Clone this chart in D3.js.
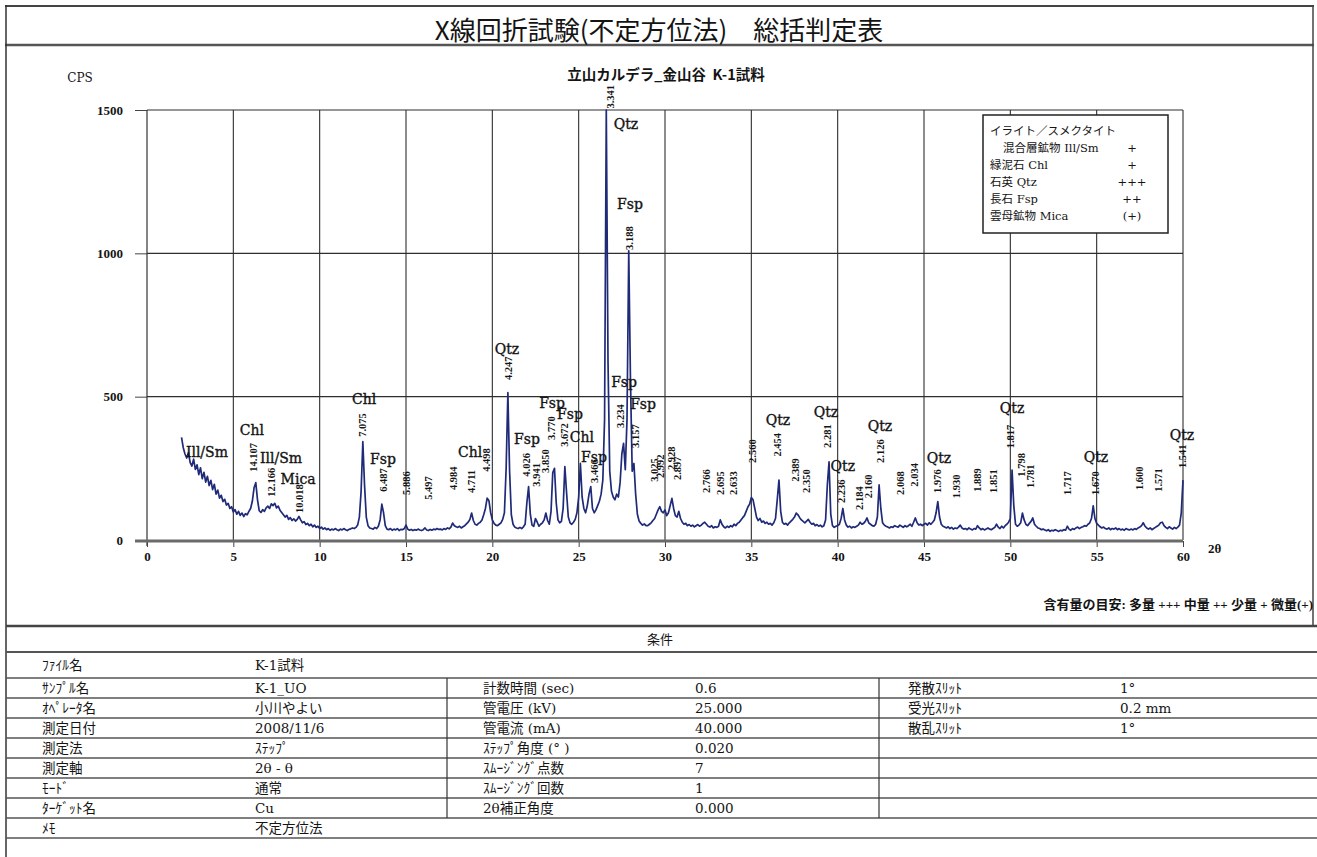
<!DOCTYPE html>
<html><head><meta charset="utf-8">
<script src="https://cdn.jsdelivr.net/npm/d3@7"></script>
<style>
body{margin:0;background:#fff;}
svg{display:block;}
text{fill:#141414;}
.sf{font-family:"Liberation Serif","Noto Sans CJK JP",serif;}
.wf{font-family:"DejaVu Serif","Noto Sans CJK JP",serif;}
.jp{font-family:"Noto Sans CJK JP","Liberation Serif",sans-serif;}
</style></head><body>
<svg id="c" width="1317" height="857"></svg>
<script>
// ---- XRD pattern: intensity (CPS) every 0.1° 2θ, from 2.0° to 60.0° ----
const scanStart = 2.0, scanStep = 0.1;
const cps = [
  358,322,300,286,305,270,258,282,246,262,   // 2
  228,252,214,236,202,222,190,208,176,194,   // 3
  160,174,146,156,134,142,122,128,110,116,   // 4
  98,106,90,100,86,94,82,92,88,100,          // 5
  110,135,182,200,140,102,96,106,100,112,    // 6
  118,110,126,120,128,112,118,104,96,88,     // 7
  80,86,72,78,68,74,66,72,82,70,             // 8
  60,64,54,58,50,55,46,52,44,48,             // 9
  40,45,38,42,36,40,34,38,35,40,             // 10
  36,33,38,35,40,36,33,37,39,42,             // 11
  40,44,52,80,170,343,190,80,50,42,          // 12
  40,38,44,40,48,70,125,95,50,38,            // 13
  36,40,34,38,35,40,33,37,36,40,             // 14
  52,38,34,37,33,36,34,38,35,33,             // 15
  36,42,35,33,37,34,38,36,40,37,             // 16
  38,35,40,37,42,39,45,59,50,46,             // 17
  44,48,42,46,50,56,62,72,94,68,             // 18
  55,52,58,62,70,88,110,146,138,96,          // 19
  70,58,52,50,55,60,72,95,250,514,           // 20
  240,88,55,45,42,40,44,40,46,55,            // 21
  130,186,90,52,48,75,62,48,55,60,           // 22
  70,94,68,55,100,235,250,130,70,60,         // 23
  65,110,256,165,80,60,55,62,72,95,          // 24
  150,267,150,110,95,120,160,186,110,95,     // 25
  105,120,135,160,210,420,1500,620,240,170,  // 26
  150,140,160,150,200,300,337,245,420,1009,  // 27
  560,240,267,160,90,66,58,52,56,50,         // 28
  50,55,60,68,75,90,105,116,100,95,          // 29
  105,85,95,120,145,110,85,80,100,75,        // 30
  62,55,58,50,54,48,52,46,50,54,             // 31
  48,52,58,62,55,48,45,50,42,46,             // 32
  44,48,70,55,46,42,48,44,50,46,             // 33
  55,50,58,62,70,78,85,100,115,125,          // 34
  148,140,110,80,68,75,62,66,58,62,          // 35
  55,58,52,60,75,140,209,100,62,55,          // 36
  58,52,60,66,72,80,94,88,78,70,             // 37
  65,60,66,72,62,55,58,50,54,48,             // 38
  52,46,50,70,190,273,90,50,44,48,           // 39
  50,55,75,110,70,52,45,48,42,46,            // 40
  44,48,52,62,55,58,65,77,60,55,             // 41
  50,48,55,80,192,110,60,52,48,45,           // 42
  42,46,44,50,47,45,52,48,44,50,             // 43
  46,50,55,48,62,77,60,52,55,50,             // 44
  55,58,52,60,55,62,70,95,134,80,            // 45
  55,48,45,42,46,40,44,38,42,40,             // 46
  45,52,42,38,40,36,42,38,35,40,             // 47
  38,50,42,36,40,35,38,42,38,36,             // 48
  40,44,55,45,40,48,42,50,55,62,             // 49
  75,244,120,55,48,52,60,94,70,55,           // 50
  50,58,65,77,55,48,42,40,36,38,             // 51
  35,32,36,30,34,32,36,33,30,34,             // 52
  32,36,34,48,38,34,40,37,42,45,             // 53
  40,44,46,50,48,55,60,75,119,75,            // 54
  58,52,46,42,45,40,38,42,36,40,             // 55
  38,42,36,40,35,38,34,40,37,35,             // 56
  38,35,40,37,42,45,50,60,48,42,             // 57
  38,42,36,40,44,48,52,60,62,50,             // 58
  44,40,46,42,38,44,40,45,52,95,             // 59
  209                                        // 60
];

// axis ticks
const xTicks = [0,5,10,15,20,25,30,35,40,45,50,55,60];
const yTicks = [0,500,1000,1500];

// peak d-spacings (Å): [2θ, label, level (CPS) of the label foot]
const dLabels = [
  [6.16,"14.107",238],[7.22,"12.166",151],[8.80,"10.018",94],[12.49,"7.075",360],
  [13.69,"6.487",168],[15.04,"5.886",157],[16.29,"5.497",140],[17.74,"4.984",174],
  [18.80,"4.711",164],[19.67,"4.498",238],[20.92,"4.247",558],[21.99,"4.026",221],
  [22.57,"3.941",186],[23.05,"3.850",234],[23.44,"3.770",349],[24.17,"3.672",325],
  [25.89,"3.466",199],[26.81,"3.341",1505],[27.43,"3.234",391],[27.91,"3.188",1012],
  [28.30,"3.157",321],[29.36,"3.025",203],[29.71,"2.992",216],[30.39,"2.928",244],
  [30.71,"2.897",209],[32.41,"2.766",164],[33.18,"2.695",157],[33.95,"2.633",157],
  [35.08,"2.560",269],[36.53,"2.454",291],[37.53,"2.389",203],[38.17,"2.350",164],
  [39.42,"2.281",321],[40.23,"2.236",129],[41.25,"2.184",105],[41.77,"2.160",146],
  [42.45,"2.126",269],[43.61,"2.068",157],[44.44,"2.034",186],[45.79,"1.976",164],
  [46.89,"1.930",146],[48.11,"1.889",168],[49.01,"1.851",164],[49.98,"1.817",320],
  [50.62,"1.798",221],[51.18,"1.781",181],[53.30,"1.717",157],[54.90,"1.670",157],
  [57.47,"1.600",174],[58.57,"1.571",168],[59.96,"1.541",251]
];

// mineral identifications: [2θ, mineral, level (CPS) of label centre]
const mineralLabels = [
  [3.47,"Ill/Sm",307],[6.08,"Chl",384],[7.76,"Ill/Sm",286],[8.75,"Mica",213],
  [12.57,"Chl",492],[13.67,"Fsp",283],[18.71,"Chl",307],[20.85,"Qtz",666],
  [22.01,"Fsp",352],[23.46,"Fsp",478],[24.50,"Fsp",440],[25.19,"Chl",359],
  [25.89,"Fsp",290],[27.74,"Qtz",1451],[27.97,"Fsp",1172],[27.63,"Fsp",551],
  [28.73,"Fsp",474],[36.54,"Qtz",419],[39.32,"Qtz",446],[40.30,"Qtz",258],
  [42.45,"Qtz",398],[45.87,"Qtz",286],[50.10,"Qtz",460],[54.96,"Qtz",290],
  [59.94,"Qtz",366]
];

// overall judgement
const legendNames = ["イライト／スメクタイト","混合層鉱物  Ill/Sm","緑泥石  Chl","石英  Qtz","長石  Fsp","雲母鉱物  Mica"];
const legendAmounts = ["","+","+","+++","++","(+)"];

// measurement conditions
const condLabels1 = ["ﾌｧｲﾙ名","ｻﾝﾌﾟﾙ名","ｵﾍﾟﾚｰﾀ名","測定日付","測定法","測定軸","ﾓｰﾄﾞ","ﾀｰｹﾞｯﾄ名","ﾒﾓ"];
const condValues1 = ["K-1試料","K-1_UO","小川やよい","2008/11/6","ｽﾃｯﾌﾟ","2θ - θ","通常","Cu","不定方位法"];
const condLabels2 = ["計数時間 (sec)","管電圧 (kV)","管電流 (mA)","ｽﾃｯﾌﾟ角度 (° )","ｽﾑｰｼﾞﾝｸﾞ点数","ｽﾑｰｼﾞﾝｸﾞ回数","2θ補正角度"];
const condValues2 = ["0.6","25.000","40.000","0.020","7","1","0.000"];
const condLabels3 = ["発散ｽﾘｯﾄ","受光ｽﾘｯﾄ","散乱ｽﾘｯﾄ"];
const condValues3 = ["1°","0.2 mm","1°"];

// ---------------------------------------------------------------
const svg = d3.select("#c");
const x = d3.scaleLinear().domain([0,60]).range([147,1183]);
const y = d3.scaleLinear().domain([0,1500]).range([540,110]);

function hline(x1,x2,yy,w,col){svg.append("line").attr("x1",x1).attr("x2",x2).attr("y1",yy).attr("y2",yy).attr("stroke",col||"#333").attr("stroke-width",w);}
function vline(xx,y1,y2,w,col){svg.append("line").attr("x1",xx).attr("x2",xx).attr("y1",y1).attr("y2",y2).attr("stroke",col||"#333").attr("stroke-width",w);}

// page frame
hline(5,1314,6,2,"#444");
hline(5,1314,45,2.5,"#555");
vline(6,5,857,1.5,"#333");
vline(1313,5,626,1.5,"#444");

svg.append("text").attr("class","jp").attr("x",659).attr("y",28)
  .attr("text-anchor","middle").attr("dominant-baseline","central")
  .attr("font-size",26).text("X線回折試験(不定方位法)\u3000総括判定表");

svg.append("text").attr("class","jp").attr("x",666).attr("y",73)
  .attr("text-anchor","middle").attr("dominant-baseline","central")
  .attr("font-size",14.5).attr("font-weight",600).text("立山カルデラ_金山谷\u00a0\u00a0K-1試料");

svg.append("text").attr("class","wf").attr("x",80).attr("y",78)
  .attr("text-anchor","middle").attr("dominant-baseline","central")
  .attr("font-size",12).text("CPS");

// grid
const grid = svg.append("g").attr("stroke","#2e2e2e").attr("stroke-width",1.1);
grid.selectAll("line.v").data(xTicks.filter(d=>d>0)).join("line")
  .attr("x1",d=>x(d)).attr("x2",d=>x(d)).attr("y1",y(1500)).attr("y2",y(0));
grid.selectAll("line.h").data(yTicks.filter(d=>d>0)).join("line")
  .attr("x1",x(0)).attr("x2",x(60)).attr("y1",d=>y(d)).attr("y2",d=>y(d));

// axes
const yAxis = svg.append("g").attr("transform",`translate(${x(0)},0)`)
  .call(d3.axisLeft(y).tickValues(yTicks).tickSize(12).tickPadding(12).tickFormat(d3.format("d")));
yAxis.select(".domain").remove();
yAxis.selectAll(".tick line").attr("stroke","#444");
yAxis.selectAll("text").attr("font-size",13).attr("font-weight","bold").attr("font-family","Liberation Serif").attr("fill","#161616");
vline(x(0),y(1500),y(0)+6,1.2,"#333");

const xAxis = svg.append("g").attr("transform",`translate(0,${y(0)+1})`)
  .call(d3.axisBottom(x).tickValues(xTicks).tickSize(6).tickPadding(5).tickFormat(d3.format("d")));
xAxis.select(".domain").remove();
xAxis.selectAll(".tick line").attr("stroke","#444");
xAxis.selectAll("text").attr("font-size",13).attr("font-weight","bold").attr("font-family","Liberation Serif").attr("fill","#161616");

hline(x(0)-12,x(60),y(0)+1,3,"#6a6a6a");

svg.append("text").attr("class","sf").attr("x",1208).attr("y",548)
  .attr("dominant-baseline","central").attr("font-size",13).attr("font-weight","bold").text("2θ");

// spectrum
svg.append("clipPath").attr("id","plot").append("rect")
  .attr("x",x(0)).attr("y",y(1500)-1).attr("width",x(60)-x(0)+1).attr("height",y(0)-y(1500)+1);
const pts = cps.map((v,i)=>[scanStart+i*scanStep, v]);
svg.append("path").datum(pts).attr("clip-path","url(#plot)")
  .attr("fill","none").attr("stroke","#1f2a78").attr("stroke-width",1.7).attr("stroke-linejoin","round")
  .attr("d", d3.line().x(d=>x(d[0])).y(d=>y(d[1])));

// d-spacing labels (vertical)
svg.append("g").selectAll("text").data(dLabels).join("text")
  .attr("class","sf").attr("font-size",10.5).attr("font-weight","bold")
  .attr("transform",d=>`translate(${x(d[0])},${y(d[2])}) rotate(-90)`)
  .attr("dy","0.35em").text(d=>d[1]);

// mineral labels
svg.append("g").selectAll("text").data(mineralLabels).join("text")
  .attr("font-family","DejaVu Serif").attr("font-size",14)
  .attr("stroke","#141414").attr("stroke-width",0.35)
  .attr("x",d=>x(d[0])).attr("y",d=>y(d[2]))
  .attr("text-anchor","middle").attr("dominant-baseline","central").text(d=>d[1]);

// judgement box
svg.append("rect").attr("x",983).attr("y",115).attr("width",185).attr("height",118)
  .attr("fill","#fff").attr("stroke","#222").attr("stroke-width",1.5);
const lg = svg.append("g").attr("class","wf").attr("font-size",11.5);
lg.selectAll("text.n").data(legendNames).join("text").attr("class","n")
  .attr("x",(d,i)=>i===1?1003:990).attr("y",(d,i)=>131+i*17)
  .attr("dominant-baseline","central").text(d=>d);
lg.selectAll("text.a").data(legendAmounts).join("text").attr("class","a")
  .attr("x",1132).attr("y",(d,i)=>131+i*17).attr("text-anchor","middle")
  .attr("dominant-baseline","central").text(d=>d);

svg.append("text").attr("class","sf").attr("x",1313).attr("y",604)
  .attr("text-anchor","end").attr("dominant-baseline","central")
  .attr("font-size",13).attr("font-weight","bold")
  .text("含有量の目安:  多量 +++  中量 ++  少量 +  微量(+)");

// conditions table
hline(6,1317,626,2.5,"#444");
hline(6,1317,652,2,"#555");
const rowTop = [652,678,698,718,738,758,778,798,818,838];
rowTop.slice(1).forEach(r=>hline(6,1317,r,1.5,"#555"));
vline(447,678,818,1.2,"#333");
vline(879,678,818,1.2,"#333");
svg.append("text").attr("class","wf").attr("x",660).attr("y",639)
  .attr("text-anchor","middle").attr("dominant-baseline","central").attr("font-size",13).text("条件");

const tbl = svg.append("g").attr("class","wf").attr("font-size",13.5);
const rowMid = i => i===0 ? 665 : rowTop[i]+10;
function col(arr, xx, first){
  tbl.append("g").selectAll("text").data(arr).join("text")
    .attr("x",xx).attr("y",(d,i)=>rowMid(i+first)).attr("dominant-baseline","central").text(d=>d);
}
col(condLabels1,42,0);
col(condValues1,255,0);
col(condLabels2,483,1);
col(condValues2,695,1);
col(condLabels3,908,1);
col(condValues3,1120,1);
</script>
</body></html>
